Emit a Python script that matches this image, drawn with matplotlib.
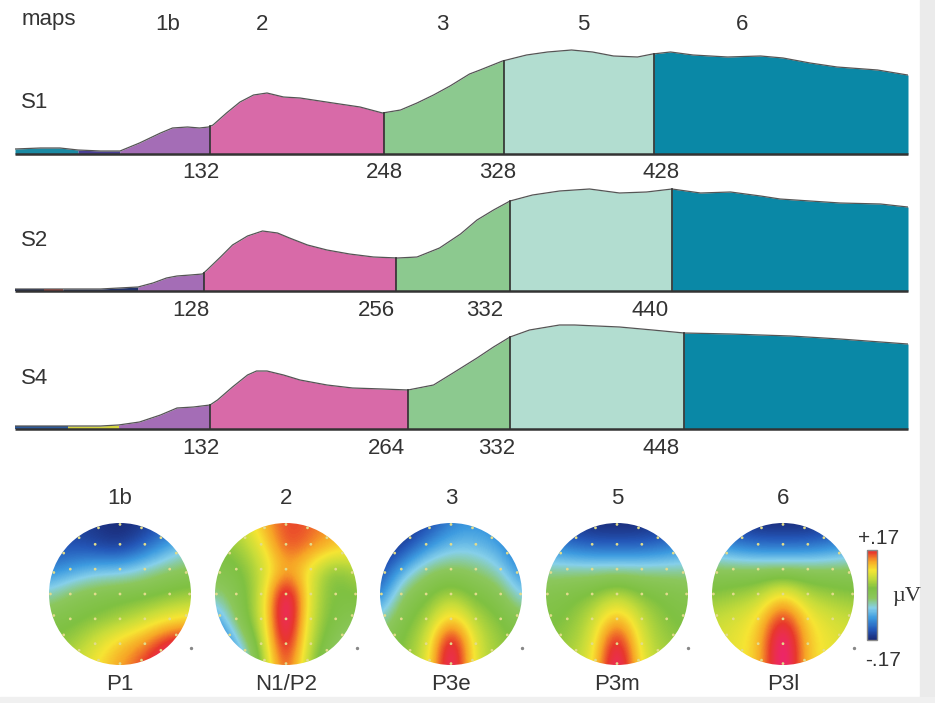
import numpy as np
import matplotlib.pyplot as plt
from matplotlib.colors import LinearSegmentedColormap, Normalize, ListedColormap
from matplotlib.patches import Circle, Rectangle
from matplotlib.cm import ScalarMappable

plt.rcParams['font.family'] = ['Liberation Sans', 'DejaVu Sans']

W, H = 935, 703
TXT = '#333333'

# ---- GFP traces (time in ms, GFP in arbitrary units) ----
S1_t = [2, 19, 32, 44, 59, 72, 85, 99, 107, 117, 125, 131, 134, 143, 152, 161, 170, 181, 192, 214,
        232, 247, 259, 270, 281, 292, 305, 312, 327, 343, 357, 373, 387, 401, 417, 427, 439, 454,
        477, 499, 514, 532, 550, 577, 597]
S1_gfp = [5, 6, 6, 4, 3, 3, 11, 21, 26, 27, 26, 27, 29, 41, 52, 59, 61, 57, 56, 51,
          47, 41, 44, 51, 59, 68, 80, 84, 93, 99, 102, 104, 102, 98, 97, 100, 102, 99,
          97, 98, 96, 91, 87, 84, 79]

S2_t = [2, 21, 34, 59, 84, 94, 103, 110, 119, 127, 130, 139, 147, 157, 167, 177, 185, 197, 210, 225,
        241, 257, 270, 285, 299, 310, 321, 332, 347, 365, 385, 405, 423, 440, 459, 479, 499, 512,
        552, 579, 597]
S2_gfp = [2, 2, 2, 2, 4, 8, 13, 15, 16, 17, 21, 34, 46, 55, 60, 58, 53, 46, 41, 37,
          34, 33, 34, 43, 57, 71, 81, 90, 96, 100, 102, 98, 99, 102, 98, 99, 95, 92,
          88, 87, 84]

S4_t = [2, 19, 37, 59, 71, 85, 99, 110, 121, 132, 137, 147, 157, 163, 170, 181, 192, 210, 227, 247,
        264, 281, 294, 310, 321, 332, 345, 365, 375, 405, 427, 448, 479, 519, 552, 597]
S4_gfp = [3, 3, 3, 3, 4, 7, 14, 21, 22, 24, 29, 42, 54, 58, 58, 54, 49, 44, 41, 40,
          39, 44, 56, 71, 82, 92, 99, 104, 104, 102, 99, 96, 95, 93, 90, 85]

# segment borders (ms) and map colours
S1_bounds = [2, 44, 72, 132, 248, 328, 428, 597.3]
S1_colors = ['#1b8aa3', '#4a3f94', '#a46db6', '#d86aa8', '#8cc98f', '#b2ddd0', '#0a88a6']
S2_bounds = [2, 21, 34, 84, 128, 256, 332, 440, 597.3]
S2_colors = ['#1f2c5c', '#c8463c', '#23336a', '#a46db6', '#d86aa8', '#8cc98f', '#b2ddd0', '#0a88a6']
S4_bounds = [2, 37, 71, 132, 264, 332, 448, 597.3]
S4_colors = ['#2c5a9c', '#d6d640', '#a46db6', '#d86aa8', '#8cc98f', '#b2ddd0', '#0a88a6']

subjects = ['S1', 'S2', 'S4']
map_ids = ['1b', '2', '3', '5', '6']
map_names = ['P1', 'N1/P2', 'P3e', 'P3m', 'P3l']

# ---- topographic maps: potentials (0.01 uV) on a 7x7 grid, front row first ----
map_1b = [[-15, -15, -16, -17, -16, -14, -12],
          [-14, -14, -15, -16, -13, -9, -6],
          [-11, -9, -7, -7, -5, -3, -2],
          [-5, -2, -1, 0, 0, 1, 2],
          [-1, 0, 1, 2, 4, 6, 7],
          [1, 2, 5, 8, 10, 14, 15],
          [2, 4, 7, 10, 13, 17, 18]]
map_2 = [[2, 4, 9, 13, 12, 10, 6],
         [1, 2, 6, 13, 11, 9, 8],
         [-1, 0, 4, 10, 6, 0, 3],
         [-4, -1, 4, 19, 5, 0, 1],
         [-10, -1, 4, 20, 4, 0, -1],
         [-15, -6, 3, 18, 3, -1, -6],
         [-16, -12, 2, 15, 2, -4, -10]]
map_3 = [[-17, -17, -15, -11, -10, -11, -13],
         [-17, -15, -10, -7, -7, -9, -13],
         [-15, -8, -3, -2, -3, -5, -11],
         [-12, -2, 0, 3, 0, -1, -7],
         [-6, 0, 2, 9, 3, 1, -2],
         [-2, 1, 4, 18, 5, 2, 0],
         [0, 1, 5, 19, 5, 2, 1]]
map_5 = [[-15, -16, -17, -17, -17, -16, -15],
         [-10, -12, -13, -13, -13, -12, -10],
         [-4, -4, -4, -4, -4, -4, -4],
         [-1, 0, 1, 4, 1, 0, -1],
         [0, 1, 4, 10, 4, 1, 0],
         [1, 2, 5, 17, 5, 2, 1],
         [2, 3, 6, 19, 6, 3, 2]]
map_6 = [[-14, -16, -17, -17, -17, -16, -14],
         [-9, -11, -12, -12, -12, -11, -9],
         [-2, -2, -2, -2, -2, -2, -2],
         [1, 2, 3, 8, 3, 2, 1],
         [4, 5, 7, 15, 7, 5, 4],
         [5, 6, 8, 19, 8, 6, 5],
         [5, 6, 8, 19, 8, 6, 5]]
maps = [map_1b, map_2, map_3, map_5, map_6]
scale_lim = 0.17


def fx(x):
    return x / W


def fy(y):
    return 1 - y / H


fig = plt.figure(figsize=(W / 100, H / 100), dpi=100)
fig.patches.append(Rectangle((fx(920), 0), 1 - fx(920), 1, transform=fig.transFigure,
                             color='#ebebeb', zorder=-5))
fig.patches.append(Rectangle((0, 0), 1, 6 / H, transform=fig.transFigure,
                             color='#f0f0f0', zorder=-5))

# ---- GFP panels ----
traces = [(S1_t, S1_gfp, S1_bounds, S1_colors),
          (S2_t, S2_gfp, S2_bounds, S2_colors),
          (S4_t, S4_gfp, S4_bounds, S4_colors)]
baselines = [154, 291, 429]
label_dx = [[-9, 0, -6, 7], [-13, -20, -25, -22], [-9, -22, -13, -23]]

for k, (t, g, bounds, cols) in enumerate(traces):
    t = np.asarray(t, float)
    g = np.asarray(g, float)
    base = baselines[k]
    ax = fig.add_axes([fx(15), fy(base), fx(908) - fx(15), 115 / H])
    ax.set_xlim(bounds[0], bounds[-1])
    ax.set_ylim(0, 115)
    ax.axis('off')
    for t0, t1, col in zip(bounds[:-1], bounds[1:], cols):
        inner = t[(t > t0) & (t < t1)]
        tt = np.concatenate([[t0], inner, [t1]])
        ax.fill_between(tt, 0, np.interp(tt, t, g), color=col, lw=0)
    ax.plot(t, g, color='#555555', lw=0.9, solid_joinstyle='round')
    # the four labelled borders between maps 1b|2|3|5|6
    for b, dx in zip(bounds[-5:-1], label_dx[k]):
        ax.plot([b, b], [0, np.interp(b, t, g)], color='#2e2e2e', lw=1.2)
        ax.annotate(f'{b:g}', xy=(b, 0), xytext=(dx, -19), textcoords='offset pixels',
                    ha='center', va='center', fontsize=16, color=TXT, annotation_clip=False)
    ax.plot([bounds[0], bounds[-1]], [0, 0], color='#333333', lw=1.8, clip_on=False,
            solid_capstyle='butt')
    fig.text(fx(21), fy(base - 51), subjects[k], fontsize=16, color=TXT, va='center', ha='left')

# header row
fig.text(fx(22), fy(19), 'maps', fontsize=16, color=TXT, va='center', ha='left')
for lab, x in zip(map_ids, [168, 262, 442, 583, 742]):
    fig.text(fx(x), fy(24), lab, fontsize=16, color=TXT, va='center', ha='center')

# ---- topographic maps ----
cmap = LinearSegmentedColormap.from_list('topo', [
    (0.00, '#1a2874'), (0.10, '#2457b8'), (0.22, '#3d9be0'), (0.32, '#86d0ea'),
    (0.42, '#8cc75c'), (0.52, '#7fc142'), (0.62, '#c6dc3a'), (0.70, '#f6e533'),
    (0.79, '#f7a526'), (0.88, '#e8382c'), (1.00, '#f01c8c')])
cmap.set_over('#f01c8c')
# the printed scale stops at red
bar_cmap = ListedColormap(cmap(np.linspace(0, 0.9, 256)))

gx = np.arange(-2, 3) * 0.35
ex, ey = np.meshgrid(gx, gx)
ex, ey = ex.ravel(), ey.ravel()
keep = np.hypot(ex, ey) < 0.92
ang = np.linspace(0, 2 * np.pi, 20, endpoint=False)
ex = np.concatenate([ex[keep], 0.98 * np.sin(ang)])
ey = np.concatenate([ey[keep], 0.98 * np.cos(ang)])

map_cx = [120, 286, 451, 617, 783]
map_cy = 594
R = 71
for i, vals in enumerate(maps):
    cx = map_cx[i]
    ax = fig.add_axes([fx(cx - 80), fy(map_cy + 80), 160 / W, 160 / H])
    im = ax.imshow(np.array(vals) / 100.0, cmap=cmap, vmin=-scale_lim, vmax=scale_lim,
                   extent=(-7 / 6, 7 / 6, -7 / 6, 7 / 6), origin='upper',
                   interpolation='bicubic', interpolation_stage='data')
    ax.set_xlim(-80 / R, 80 / R)
    ax.set_ylim(-80 / R, 80 / R)
    circ = Circle((0, 0), 1, transform=ax.transData, fc='none', ec='none')
    ax.add_patch(circ)
    im.set_clip_path(circ)
    ax.scatter(ex, ey, s=4, color='#e2dc8c', edgecolors='none', zorder=3)
    ax.scatter([1.0], [-0.76], s=2, color='#888888', zorder=3)
    ax.axis('off')
    fig.text(fx(cx), fy(498), map_ids[i], fontsize=16, color=TXT, ha='center', va='center')
    fig.text(fx(cx), fy(684), map_names[i], fontsize=16, color=TXT, ha='center', va='center')

# colour scale
cax = fig.add_axes([fx(867), fy(640), 10 / W, 90 / H])
cb = fig.colorbar(ScalarMappable(norm=Normalize(-scale_lim, scale_lim), cmap=bar_cmap), cax=cax)
cb.set_ticks([])
cb.outline.set_edgecolor('#8a8a8a')
cb.outline.set_linewidth(1.0)
fig.text(fx(879), fy(539), '+.17', fontsize=15, color=TXT, ha='center', va='center')
fig.text(fx(883), fy(660), '-.17', fontsize=15, color=TXT, ha='center', va='center')
fig.text(fx(907), fy(596), '\u00b5V', fontsize=16, color=TXT, ha='center', va='center',
         family=['Liberation Serif', 'DejaVu Serif'])

fig.savefig('out.png', dpi=100)
